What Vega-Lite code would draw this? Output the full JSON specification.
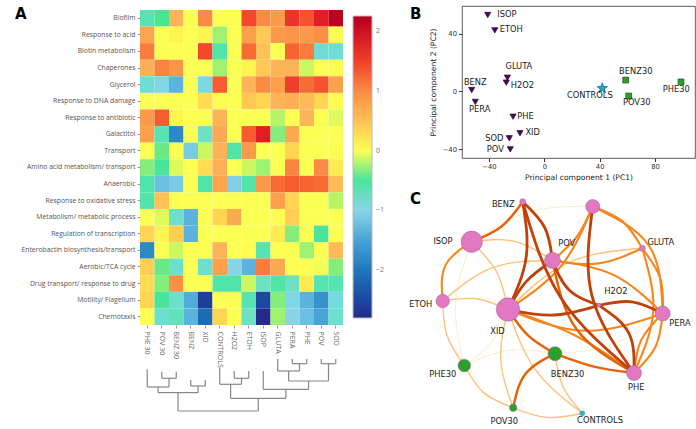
{
"$schema": "https://vega.github.io/schema/vega-lite/v6.json",
"padding": {"left": 15, "top": 5, "right": 0, "bottom": 0},
"background": "white",
"spacing": 24,
"config": {"view": {"stroke": null}, "font": "DejaVu Sans"},
"datasets": {
"heat": [
{"g":"Biofilm","s":"PHE 30","v":-0.6},{"g":"Biofilm","s":"POV 30","v":-0.45},{"g":"Biofilm","s":"BENZ 30","v":0.6},{"g":"Biofilm","s":"BENZ","v":0},{"g":"Biofilm","s":"XID","v":1.0},{"g":"Biofilm","s":"CONTROLS","v":0},{"g":"Biofilm","s":"H2O2","v":0},{"g":"Biofilm","s":"ETOH","v":1.4},{"g":"Biofilm","s":"ISOP","v":1.0},{"g":"Biofilm","s":"GLUTA","v":0.85},{"g":"Biofilm","s":"PERA","v":1.6},{"g":"Biofilm","s":"PHE","v":1.35},{"g":"Biofilm","s":"POV","v":1.8},{"g":"Biofilm","s":"SOD","v":2.2},
{"g":"Response to acid","s":"PHE 30","v":0.75},{"g":"Response to acid","s":"POV 30","v":0.05},{"g":"Response to acid","s":"BENZ 30","v":0.15},{"g":"Response to acid","s":"BENZ","v":0},{"g":"Response to acid","s":"XID","v":0.15},{"g":"Response to acid","s":"CONTROLS","v":-0.3},{"g":"Response to acid","s":"H2O2","v":0},{"g":"Response to acid","s":"ETOH","v":0.8},{"g":"Response to acid","s":"ISOP","v":0.45},{"g":"Response to acid","s":"GLUTA","v":0.85},{"g":"Response to acid","s":"PERA","v":0.9},{"g":"Response to acid","s":"PHE","v":0.85},{"g":"Response to acid","s":"POV","v":0.95},{"g":"Response to acid","s":"SOD","v":0.1},
{"g":"Biotin metabolism","s":"PHE 30","v":1.1},{"g":"Biotin metabolism","s":"POV 30","v":0},{"g":"Biotin metabolism","s":"BENZ 30","v":0},{"g":"Biotin metabolism","s":"BENZ","v":0},{"g":"Biotin metabolism","s":"XID","v":1.4},{"g":"Biotin metabolism","s":"CONTROLS","v":-0.55},{"g":"Biotin metabolism","s":"H2O2","v":0},{"g":"Biotin metabolism","s":"ETOH","v":1.2},{"g":"Biotin metabolism","s":"ISOP","v":0.5},{"g":"Biotin metabolism","s":"GLUTA","v":0},{"g":"Biotin metabolism","s":"PERA","v":1.25},{"g":"Biotin metabolism","s":"PHE","v":1.1},{"g":"Biotin metabolism","s":"POV","v":-0.8},{"g":"Biotin metabolism","s":"SOD","v":-0.8},
{"g":"Chaperones","s":"PHE 30","v":0.65},{"g":"Chaperones","s":"POV 30","v":1.05},{"g":"Chaperones","s":"BENZ 30","v":0.9},{"g":"Chaperones","s":"BENZ","v":0},{"g":"Chaperones","s":"XID","v":0},{"g":"Chaperones","s":"CONTROLS","v":-0.3},{"g":"Chaperones","s":"H2O2","v":0},{"g":"Chaperones","s":"ETOH","v":0.15},{"g":"Chaperones","s":"ISOP","v":0.45},{"g":"Chaperones","s":"GLUTA","v":0.6},{"g":"Chaperones","s":"PERA","v":0.6},{"g":"Chaperones","s":"PHE","v":-0.2},{"g":"Chaperones","s":"POV","v":0},{"g":"Chaperones","s":"SOD","v":0.1},
{"g":"Glycerol","s":"PHE 30","v":-0.8},{"g":"Glycerol","s":"POV 30","v":-0.95},{"g":"Glycerol","s":"BENZ 30","v":-1.3},{"g":"Glycerol","s":"BENZ","v":0},{"g":"Glycerol","s":"XID","v":-0.9},{"g":"Glycerol","s":"CONTROLS","v":1.3},{"g":"Glycerol","s":"H2O2","v":0},{"g":"Glycerol","s":"ETOH","v":0.6},{"g":"Glycerol","s":"ISOP","v":1.0},{"g":"Glycerol","s":"GLUTA","v":0.8},{"g":"Glycerol","s":"PERA","v":1.5},{"g":"Glycerol","s":"PHE","v":1.2},{"g":"Glycerol","s":"POV","v":1.35},{"g":"Glycerol","s":"SOD","v":0.8},
{"g":"Response to DNA damage","s":"PHE 30","v":0},{"g":"Response to DNA damage","s":"POV 30","v":0},{"g":"Response to DNA damage","s":"BENZ 30","v":0},{"g":"Response to DNA damage","s":"BENZ","v":0},{"g":"Response to DNA damage","s":"XID","v":0.3},{"g":"Response to DNA damage","s":"CONTROLS","v":0.1},{"g":"Response to DNA damage","s":"H2O2","v":0},{"g":"Response to DNA damage","s":"ETOH","v":0.45},{"g":"Response to DNA damage","s":"ISOP","v":0.35},{"g":"Response to DNA damage","s":"GLUTA","v":0.6},{"g":"Response to DNA damage","s":"PERA","v":0.65},{"g":"Response to DNA damage","s":"PHE","v":0.55},{"g":"Response to DNA damage","s":"POV","v":0.35},{"g":"Response to DNA damage","s":"SOD","v":0.1},
{"g":"Response to antibiotic","s":"PHE 30","v":0.85},{"g":"Response to antibiotic","s":"POV 30","v":1.3},{"g":"Response to antibiotic","s":"BENZ 30","v":0.15},{"g":"Response to antibiotic","s":"BENZ","v":0},{"g":"Response to antibiotic","s":"XID","v":0},{"g":"Response to antibiotic","s":"CONTROLS","v":0.6},{"g":"Response to antibiotic","s":"H2O2","v":0},{"g":"Response to antibiotic","s":"ETOH","v":0},{"g":"Response to antibiotic","s":"ISOP","v":0},{"g":"Response to antibiotic","s":"GLUTA","v":-0.25},{"g":"Response to antibiotic","s":"PERA","v":0},{"g":"Response to antibiotic","s":"PHE","v":0.6},{"g":"Response to antibiotic","s":"POV","v":0},{"g":"Response to antibiotic","s":"SOD","v":-0.15},
{"g":"Galactitol","s":"PHE 30","v":0.8},{"g":"Galactitol","s":"POV 30","v":-0.6},{"g":"Galactitol","s":"BENZ 30","v":-1.8},{"g":"Galactitol","s":"BENZ","v":0},{"g":"Galactitol","s":"XID","v":-0.7},{"g":"Galactitol","s":"CONTROLS","v":0.7},{"g":"Galactitol","s":"H2O2","v":0},{"g":"Galactitol","s":"ETOH","v":1.3},{"g":"Galactitol","s":"ISOP","v":1.8},{"g":"Galactitol","s":"GLUTA","v":-0.35},{"g":"Galactitol","s":"PERA","v":0.7},{"g":"Galactitol","s":"PHE","v":0},{"g":"Galactitol","s":"POV","v":0},{"g":"Galactitol","s":"SOD","v":0},
{"g":"Transport","s":"PHE 30","v":0},{"g":"Transport","s":"POV 30","v":-0.4},{"g":"Transport","s":"BENZ 30","v":0},{"g":"Transport","s":"BENZ","v":-1.1},{"g":"Transport","s":"XID","v":-0.2},{"g":"Transport","s":"CONTROLS","v":0.6},{"g":"Transport","s":"H2O2","v":-0.55},{"g":"Transport","s":"ETOH","v":0.85},{"g":"Transport","s":"ISOP","v":0},{"g":"Transport","s":"GLUTA","v":0},{"g":"Transport","s":"PERA","v":0.35},{"g":"Transport","s":"PHE","v":0},{"g":"Transport","s":"POV","v":0},{"g":"Transport","s":"SOD","v":0.1},
{"g":"Amino acid metabolism/ transport","s":"PHE 30","v":-0.35},{"g":"Amino acid metabolism/ transport","s":"POV 30","v":-0.5},{"g":"Amino acid metabolism/ transport","s":"BENZ 30","v":-0.15},{"g":"Amino acid metabolism/ transport","s":"BENZ","v":0},{"g":"Amino acid metabolism/ transport","s":"XID","v":0.3},{"g":"Amino acid metabolism/ transport","s":"CONTROLS","v":0.65},{"g":"Amino acid metabolism/ transport","s":"H2O2","v":0},{"g":"Amino acid metabolism/ transport","s":"ETOH","v":-0.2},{"g":"Amino acid metabolism/ transport","s":"ISOP","v":-0.3},{"g":"Amino acid metabolism/ transport","s":"GLUTA","v":0},{"g":"Amino acid metabolism/ transport","s":"PERA","v":1.05},{"g":"Amino acid metabolism/ transport","s":"PHE","v":0},{"g":"Amino acid metabolism/ transport","s":"POV","v":1.0},{"g":"Amino acid metabolism/ transport","s":"SOD","v":0.2},
{"g":"Anaerobic","s":"PHE 30","v":-0.55},{"g":"Anaerobic","s":"POV 30","v":-1.2},{"g":"Anaerobic","s":"BENZ 30","v":-1.1},{"g":"Anaerobic","s":"BENZ","v":0},{"g":"Anaerobic","s":"XID","v":-0.55},{"g":"Anaerobic","s":"CONTROLS","v":0.75},{"g":"Anaerobic","s":"H2O2","v":-1.05},{"g":"Anaerobic","s":"ETOH","v":-0.55},{"g":"Anaerobic","s":"ISOP","v":0.85},{"g":"Anaerobic","s":"GLUTA","v":1.2},{"g":"Anaerobic","s":"PERA","v":1.3},{"g":"Anaerobic","s":"PHE","v":1.25},{"g":"Anaerobic","s":"POV","v":1.2},{"g":"Anaerobic","s":"SOD","v":0.55},
{"g":"Response to oxidative stress","s":"PHE 30","v":-0.55},{"g":"Response to oxidative stress","s":"POV 30","v":0.5},{"g":"Response to oxidative stress","s":"BENZ 30","v":0},{"g":"Response to oxidative stress","s":"BENZ","v":0},{"g":"Response to oxidative stress","s":"XID","v":0.05},{"g":"Response to oxidative stress","s":"CONTROLS","v":0},{"g":"Response to oxidative stress","s":"H2O2","v":0},{"g":"Response to oxidative stress","s":"ETOH","v":0},{"g":"Response to oxidative stress","s":"ISOP","v":0},{"g":"Response to oxidative stress","s":"GLUTA","v":0.8},{"g":"Response to oxidative stress","s":"PERA","v":0.35},{"g":"Response to oxidative stress","s":"PHE","v":0},{"g":"Response to oxidative stress","s":"POV","v":0},{"g":"Response to oxidative stress","s":"SOD","v":-0.25},
{"g":"Metabolism/ metabolic process","s":"PHE 30","v":0},{"g":"Metabolism/ metabolic process","s":"POV 30","v":-0.15},{"g":"Metabolism/ metabolic process","s":"BENZ 30","v":-0.75},{"g":"Metabolism/ metabolic process","s":"BENZ","v":-1.3},{"g":"Metabolism/ metabolic process","s":"XID","v":0},{"g":"Metabolism/ metabolic process","s":"CONTROLS","v":0.35},{"g":"Metabolism/ metabolic process","s":"H2O2","v":0.7},{"g":"Metabolism/ metabolic process","s":"ETOH","v":0},{"g":"Metabolism/ metabolic process","s":"ISOP","v":0.05},{"g":"Metabolism/ metabolic process","s":"GLUTA","v":0},{"g":"Metabolism/ metabolic process","s":"PERA","v":0.4},{"g":"Metabolism/ metabolic process","s":"PHE","v":0},{"g":"Metabolism/ metabolic process","s":"POV","v":0},{"g":"Metabolism/ metabolic process","s":"SOD","v":0},
{"g":"Regulation of transcription","s":"PHE 30","v":0.35},{"g":"Regulation of transcription","s":"POV 30","v":0.15},{"g":"Regulation of transcription","s":"BENZ 30","v":0.4},{"g":"Regulation of transcription","s":"BENZ","v":-1.3},{"g":"Regulation of transcription","s":"XID","v":0},{"g":"Regulation of transcription","s":"CONTROLS","v":0.05},{"g":"Regulation of transcription","s":"H2O2","v":0.05},{"g":"Regulation of transcription","s":"ETOH","v":0.05},{"g":"Regulation of transcription","s":"ISOP","v":0},{"g":"Regulation of transcription","s":"GLUTA","v":0.2},{"g":"Regulation of transcription","s":"PERA","v":-0.35},{"g":"Regulation of transcription","s":"PHE","v":0},{"g":"Regulation of transcription","s":"POV","v":-0.5},{"g":"Regulation of transcription","s":"SOD","v":0},
{"g":"Enterobactin biosynthesis/transport","s":"PHE 30","v":-1.8},{"g":"Enterobactin biosynthesis/transport","s":"POV 30","v":0},{"g":"Enterobactin biosynthesis/transport","s":"BENZ 30","v":-0.2},{"g":"Enterobactin biosynthesis/transport","s":"BENZ","v":0},{"g":"Enterobactin biosynthesis/transport","s":"XID","v":0},{"g":"Enterobactin biosynthesis/transport","s":"CONTROLS","v":0.6},{"g":"Enterobactin biosynthesis/transport","s":"H2O2","v":0},{"g":"Enterobactin biosynthesis/transport","s":"ETOH","v":0.1},{"g":"Enterobactin biosynthesis/transport","s":"ISOP","v":-0.6},{"g":"Enterobactin biosynthesis/transport","s":"GLUTA","v":0},{"g":"Enterobactin biosynthesis/transport","s":"PERA","v":0},{"g":"Enterobactin biosynthesis/transport","s":"PHE","v":-0.3},{"g":"Enterobactin biosynthesis/transport","s":"POV","v":0},{"g":"Enterobactin biosynthesis/transport","s":"SOD","v":0.55},
{"g":"Aerobic/TCA cycle","s":"PHE 30","v":0.4},{"g":"Aerobic/TCA cycle","s":"POV 30","v":-0.4},{"g":"Aerobic/TCA cycle","s":"BENZ 30","v":-0.75},{"g":"Aerobic/TCA cycle","s":"BENZ","v":0},{"g":"Aerobic/TCA cycle","s":"XID","v":-0.75},{"g":"Aerobic/TCA cycle","s":"CONTROLS","v":0.8},{"g":"Aerobic/TCA cycle","s":"H2O2","v":-1.0},{"g":"Aerobic/TCA cycle","s":"ETOH","v":-1.3},{"g":"Aerobic/TCA cycle","s":"ISOP","v":1.1},{"g":"Aerobic/TCA cycle","s":"GLUTA","v":0.7},{"g":"Aerobic/TCA cycle","s":"PERA","v":0},{"g":"Aerobic/TCA cycle","s":"PHE","v":0.05},{"g":"Aerobic/TCA cycle","s":"POV","v":-0.1},{"g":"Aerobic/TCA cycle","s":"SOD","v":-0.35},
{"g":"Drug transport/ response to drug","s":"PHE 30","v":0.3},{"g":"Drug transport/ response to drug","s":"POV 30","v":-0.35},{"g":"Drug transport/ response to drug","s":"BENZ 30","v":0.95},{"g":"Drug transport/ response to drug","s":"BENZ","v":0},{"g":"Drug transport/ response to drug","s":"XID","v":0},{"g":"Drug transport/ response to drug","s":"CONTROLS","v":-0.55},{"g":"Drug transport/ response to drug","s":"H2O2","v":-0.55},{"g":"Drug transport/ response to drug","s":"ETOH","v":-0.2},{"g":"Drug transport/ response to drug","s":"ISOP","v":-0.7},{"g":"Drug transport/ response to drug","s":"GLUTA","v":-0.55},{"g":"Drug transport/ response to drug","s":"PERA","v":-0.7},{"g":"Drug transport/ response to drug","s":"PHE","v":0.2},{"g":"Drug transport/ response to drug","s":"POV","v":-0.6},{"g":"Drug transport/ response to drug","s":"SOD","v":-0.6},
{"g":"Motility/ Flagellum","s":"PHE 30","v":0.35},{"g":"Motility/ Flagellum","s":"POV 30","v":-0.5},{"g":"Motility/ Flagellum","s":"BENZ 30","v":-0.75},{"g":"Motility/ Flagellum","s":"BENZ","v":-1.4},{"g":"Motility/ Flagellum","s":"XID","v":-2.6},{"g":"Motility/ Flagellum","s":"CONTROLS","v":0},{"g":"Motility/ Flagellum","s":"H2O2","v":0},{"g":"Motility/ Flagellum","s":"ETOH","v":-0.6},{"g":"Motility/ Flagellum","s":"ISOP","v":-2.5},{"g":"Motility/ Flagellum","s":"GLUTA","v":-0.35},{"g":"Motility/ Flagellum","s":"PERA","v":-0.95},{"g":"Motility/ Flagellum","s":"PHE","v":-1.3},{"g":"Motility/ Flagellum","s":"POV","v":-1.7},{"g":"Motility/ Flagellum","s":"SOD","v":-0.85},
{"g":"Chemotaxis","s":"PHE 30","v":0.05},{"g":"Chemotaxis","s":"POV 30","v":-0.75},{"g":"Chemotaxis","s":"BENZ 30","v":-0.65},{"g":"Chemotaxis","s":"BENZ","v":-1.3},{"g":"Chemotaxis","s":"XID","v":-2.1},{"g":"Chemotaxis","s":"CONTROLS","v":0.35},{"g":"Chemotaxis","s":"H2O2","v":0},{"g":"Chemotaxis","s":"ETOH","v":-0.7},{"g":"Chemotaxis","s":"ISOP","v":-2.8},{"g":"Chemotaxis","s":"GLUTA","v":-0.3},{"g":"Chemotaxis","s":"PERA","v":-1.0},{"g":"Chemotaxis","s":"PHE","v":-1.2},{"g":"Chemotaxis","s":"POV","v":-1.5},{"g":"Chemotaxis","s":"SOD","v":-0.75}
],
"dendro": [
{"x1":10,"x2":10,"h1":3,"h2":7.7},{"x1":11,"x2":11,"h1":3,"h2":7.7},{"x1":10,"x2":11,"h1":7.7,"h2":7.7},
{"x1":12,"x2":12,"h1":3,"h2":7.7},{"x1":13,"x2":13,"h1":3,"h2":7.7},{"x1":12,"x2":13,"h1":7.7,"h2":7.7},
{"x1":9,"x2":9,"h1":3,"h2":15},{"x1":10.5,"x2":10.5,"h1":7.7,"h2":15},{"x1":9,"x2":10.5,"h1":15,"h2":15},
{"x1":9.75,"x2":9.75,"h1":15,"h2":25},{"x1":12.5,"x2":12.5,"h1":7.7,"h2":25},{"x1":9.75,"x2":12.5,"h1":25,"h2":25},
{"x1":8,"x2":8,"h1":15,"h2":33.3},{"x1":11.125,"x2":11.125,"h1":25,"h2":33.3},{"x1":8,"x2":11.125,"h1":33.3,"h2":33.3},
{"x1":6,"x2":6,"h1":15,"h2":22.3},{"x1":7,"x2":7,"h1":15,"h2":22.3},{"x1":6,"x2":7,"h1":22.3,"h2":22.3},
{"x1":5,"x2":5,"h1":11.7,"h2":28.3},{"x1":6.5,"x2":6.5,"h1":22.3,"h2":28.3},{"x1":5,"x2":6.5,"h1":28.3,"h2":28.3},
{"x1":5.75,"x2":5.75,"h1":28.3,"h2":42.3},{"x1":9.5625,"x2":9.5625,"h1":33.3,"h2":42.3},{"x1":5.75,"x2":9.5625,"h1":42.3,"h2":42.3},
{"x1":1,"x2":1,"h1":15.7,"h2":22.3},{"x1":2,"x2":2,"h1":15.7,"h2":22.3},{"x1":1,"x2":2,"h1":22.3,"h2":22.3},
{"x1":0,"x2":0,"h1":13.3,"h2":31},{"x1":1.5,"x2":1.5,"h1":22.3,"h2":31},{"x1":0,"x2":1.5,"h1":31,"h2":31},
{"x1":3,"x2":3,"h1":24,"h2":30},{"x1":4,"x2":4,"h1":24,"h2":30},{"x1":3,"x2":4,"h1":30,"h2":30},
{"x1":0.75,"x2":0.75,"h1":31,"h2":36.7},{"x1":3.5,"x2":3.5,"h1":30,"h2":36.7},{"x1":0.75,"x2":3.5,"h1":36.7,"h2":36.7},
{"x1":2.125,"x2":2.125,"h1":36.7,"h2":55},{"x1":7.656,"x2":7.656,"h1":42.3,"h2":55},{"x1":2.125,"x2":7.656,"h1":55,"h2":55}
],
"pca": [
{"name":"ISOP","grp":"treated","pc1":-40.9,"pc2":52.8,"lx":-27,"ly":52.8},
{"name":"ETOH","grp":"treated","pc1":-35.8,"pc2":42.2,"lx":-23.9,"ly":42.2},
{"name":"GLUTA","grp":"treated","pc1":-26.7,"pc2":9.5,"lx":-18.4,"ly":16.9},
{"name":"H2O2","grp":"treated","pc1":-27.5,"pc2":6.1,"lx":-15.8,"ly":3.6},
{"name":"BENZ","grp":"treated","pc1":-52.5,"pc2":1.0,"lx":-49.9,"ly":6.1},
{"name":"PERA","grp":"treated","pc1":-49.9,"pc2":-7.2,"lx":-46.7,"ly":-12.8},
{"name":"PHE","grp":"treated","pc1":-22.6,"pc2":-17.4,"lx":-13.6,"ly":-17.4},
{"name":"XID","grp":"treated","pc1":-17.6,"pc2":-28.8,"lx":-8.4,"ly":-28.4},
{"name":"SOD","grp":"treated","pc1":-25.3,"pc2":-32.3,"lx":-36.2,"ly":-32.6},
{"name":"POV","grp":"treated","pc1":-24.6,"pc2":-39.9,"lx":-35.4,"ly":-40.6},
{"name":"CONTROLS","grp":"control","pc1":41.9,"pc2":2.2,"lx":32.9,"ly":-3.1},
{"name":"BENZ30","grp":"recovered","pc1":58.8,"pc2":7.9,"lx":66.1,"ly":13.4},
{"name":"POV30","grp":"recovered","pc1":61.0,"pc2":-3.1,"lx":66.8,"ly":-7.7},
{"name":"PHE30","grp":"recovered","pc1":98.8,"pc2":6.6,"lx":95.4,"ly":0.8}
],
"nodes": [
{"lab":"BENZ","grp":"treated","v":3.6,"x":522.7,"y":200.7,"lx":503.3,"ly":204},
{"lab":"","grp":"treated","v":19.6,"x":592.7,"y":205.5,"lx":592.7,"ly":205.5},
{"lab":"ISOP","grp":"treated","v":45.8,"x":471.7,"y":240.7,"lx":443,"ly":240.7},
{"lab":"GLUTA","grp":"treated","v":3.6,"x":642.3,"y":247.3,"lx":660.8,"ly":242.3},
{"lab":"POV","grp":"treated","v":25.6,"x":552.5,"y":259.5,"lx":566.7,"ly":242.7},
{"lab":"ETOH","grp":"treated","v":18,"x":442.7,"y":300,"lx":420.8,"ly":304.3},
{"lab":"H2O2","grp":"treated","v":1.6,"x":599,"y":304.3,"lx":615.8,"ly":291},
{"lab":"XID","grp":"treated","v":54.8,"x":508,"y":308.5,"lx":497.5,"ly":330.7},
{"lab":"PERA","grp":"treated","v":22.5,"x":662.7,"y":312.5,"lx":680,"ly":323.3},
{"lab":"BENZ30","grp":"recovered","v":19.6,"x":555,"y":352.7,"lx":567.5,"ly":373.7},
{"lab":"PHE30","grp":"recovered","v":15.9,"x":464.3,"y":364.5,"lx":442.7,"ly":373.7},
{"lab":"PHE","grp":"treated","v":22.5,"x":634,"y":372,"lx":636.2,"ly":387.3},
{"lab":"POV30","grp":"recovered","v":5.5,"x":513.2,"y":406.8,"lx":504.2,"ly":421},
{"lab":"CONTROLS","grp":"control","v":2.5,"x":582.3,"y":412.3,"lx":600,"ly":420.3}
],
"edges": [
{"e":"E01","w":1,"o":0,"x":471.7,"y":240.7},{"e":"E01","w":1,"o":1,"x":455.6,"y":301.9},{"e":"E01","w":1,"o":2,"x":464.3,"y":364.5},
{"e":"E02","w":1,"o":0,"x":464.3,"y":364.5},{"e":"E02","w":1,"o":1,"x":508.5,"y":349.5},{"e":"E02","w":1,"o":2,"x":555,"y":352.7},
{"e":"E03","w":1,"o":0,"x":508,"y":308.5},{"e":"E03","w":1,"o":1,"x":491.8,"y":340.9},{"e":"E03","w":1,"o":2,"x":464.3,"y":364.5},
{"e":"E04","w":1,"o":0,"x":471.7,"y":240.7},{"e":"E04","w":1,"o":1,"x":528.7,"y":211},{"e":"E04","w":1,"o":2,"x":592.7,"y":205.5},
{"e":"E05","w":1,"o":0,"x":662.7,"y":312.5},{"e":"E05","w":1,"o":1,"x":612.9,"y":343.4},{"e":"E05","w":1,"o":2,"x":555,"y":352.7},
{"e":"E06","w":2,"o":0,"x":471.7,"y":240.7},{"e":"E06","w":2,"o":1,"x":496.7,"y":271},{"e":"E06","w":2,"o":2,"x":508,"y":308.5},
{"e":"E07","w":2,"o":0,"x":552.5,"y":259.5},{"e":"E07","w":2,"o":1,"x":514.4,"y":240.4},{"e":"E07","w":2,"o":2,"x":471.7,"y":240.7},
{"e":"E08","w":2,"o":0,"x":442.7,"y":300},{"e":"E08","w":2,"o":1,"x":492.7,"y":266.6},{"e":"E08","w":2,"o":2,"x":552.5,"y":259.5},
{"e":"E09","w":2,"o":0,"x":442.7,"y":300},{"e":"E09","w":2,"o":1,"x":476.3,"y":297.8},{"e":"E09","w":2,"o":2,"x":508,"y":308.5},
{"e":"E10","w":2,"o":0,"x":442.7,"y":300},{"e":"E10","w":2,"o":1,"x":447,"y":334.5},{"e":"E10","w":2,"o":2,"x":464.3,"y":364.5},
{"e":"E11","w":2,"o":0,"x":464.3,"y":364.5},{"e":"E11","w":2,"o":1,"x":483.7,"y":391.6},{"e":"E11","w":2,"o":2,"x":513.2,"y":406.8},
{"e":"E12","w":2,"o":0,"x":508,"y":308.5},{"e":"E12","w":2,"o":1,"x":500.8,"y":358.2},{"e":"E12","w":2,"o":2,"x":513.2,"y":406.8},
{"e":"E13","w":2,"o":0,"x":508,"y":308.5},{"e":"E13","w":2,"o":1,"x":534.8,"y":367.8},{"e":"E13","w":2,"o":2,"x":582.3,"y":412.3},
{"e":"E14","w":2,"o":0,"x":513.2,"y":406.8},{"e":"E14","w":2,"o":1,"x":547.2,"y":416.5},{"e":"E14","w":2,"o":2,"x":582.3,"y":412.3},
{"e":"E15","w":2,"o":0,"x":555,"y":352.7},{"e":"E15","w":2,"o":1,"x":562.7,"y":385.2},{"e":"E15","w":2,"o":2,"x":582.3,"y":412.3},
{"e":"E16","w":2,"o":0,"x":642.3,"y":247.3},{"e":"E16","w":2,"o":1,"x":567.9,"y":261.8},{"e":"E16","w":2,"o":2,"x":508,"y":308.5},
{"e":"E17","w":3,"o":0,"x":471.7,"y":240.7},{"e":"E17","w":3,"o":1,"x":445.3,"y":264.6},{"e":"E17","w":3,"o":2,"x":442.7,"y":300},
{"e":"E18","w":3,"o":0,"x":592.7,"y":205.5},{"e":"E18","w":3,"o":1,"x":576.9,"y":235.7},{"e":"E18","w":3,"o":2,"x":552.5,"y":259.5},
{"e":"E19","w":3,"o":0,"x":592.7,"y":205.5},{"e":"E19","w":3,"o":1,"x":560.7,"y":265.5},{"e":"E19","w":3,"o":2,"x":508,"y":308.5},
{"e":"E20","w":3,"o":0,"x":592.7,"y":205.5},{"e":"E20","w":3,"o":1,"x":622.5,"y":220.4},{"e":"E20","w":3,"o":2,"x":642.3,"y":247.3},
{"e":"E21","w":3,"o":0,"x":592.7,"y":205.5},{"e":"E21","w":3,"o":1,"x":649.1,"y":245},{"e":"E21","w":3,"o":2,"x":662.7,"y":312.5},
{"e":"E22","w":3,"o":0,"x":642.3,"y":247.3},{"e":"E22","w":3,"o":1,"x":660.3,"y":277.5},{"e":"E22","w":3,"o":2,"x":662.7,"y":312.5},
{"e":"E23","w":3,"o":0,"x":642.3,"y":247.3},{"e":"E23","w":3,"o":1,"x":653.2,"y":310.7},{"e":"E23","w":3,"o":2,"x":634,"y":372},
{"e":"E24","w":3,"o":0,"x":642.3,"y":247.3},{"e":"E24","w":3,"o":1,"x":598.6,"y":262.4},{"e":"E24","w":3,"o":2,"x":552.5,"y":259.5},
{"e":"E25","w":3,"o":0,"x":552.5,"y":259.5},{"e":"E25","w":3,"o":1,"x":613.4,"y":273.9},{"e":"E25","w":3,"o":2,"x":662.7,"y":312.5},
{"e":"E26","w":3,"o":0,"x":508,"y":308.5},{"e":"E26","w":3,"o":1,"x":584.8,"y":329.8},{"e":"E26","w":3,"o":2,"x":662.7,"y":312.5},
{"e":"E27","w":3,"o":0,"x":508,"y":308.5},{"e":"E27","w":3,"o":1,"x":574.2,"y":334},{"e":"E27","w":3,"o":2,"x":634,"y":372},
{"e":"E28","w":3,"o":0,"x":662.7,"y":312.5},{"e":"E28","w":3,"o":1,"x":641.3,"y":338.9},{"e":"E28","w":3,"o":2,"x":634,"y":372},
{"e":"E29","w":3,"o":0,"x":662.7,"y":312.5},{"e":"E29","w":3,"o":1,"x":655.5,"y":345.7},{"e":"E29","w":3,"o":2,"x":634,"y":372},
{"e":"E30","w":3.5,"o":0,"x":522.7,"y":200.7},{"e":"E30","w":3.5,"o":1,"x":501.2,"y":225.8},{"e":"E30","w":3.5,"o":2,"x":471.7,"y":240.7},
{"e":"E31","w":3.5,"o":0,"x":508,"y":308.5},{"e":"E31","w":3.5,"o":1,"x":528,"y":334.4},{"e":"E31","w":3.5,"o":2,"x":555,"y":352.7},
{"e":"E32","w":3.5,"o":0,"x":555,"y":352.7},{"e":"E32","w":3.5,"o":1,"x":525.4,"y":373.1},{"e":"E32","w":3.5,"o":2,"x":513.2,"y":406.8},
{"e":"E33","w":3.5,"o":0,"x":555,"y":352.7},{"e":"E33","w":3.5,"o":1,"x":593.7,"y":365.6},{"e":"E33","w":3.5,"o":2,"x":634,"y":372},
{"e":"E34","w":3.5,"o":0,"x":552.5,"y":259.5},{"e":"E34","w":3.5,"o":1,"x":576.4,"y":328},{"e":"E34","w":3.5,"o":2,"x":634,"y":372},
{"e":"E35","w":4,"o":0,"x":522.7,"y":200.7},{"e":"E35","w":4,"o":1,"x":544.7,"y":226.5},{"e":"E35","w":4,"o":2,"x":552.5,"y":259.5},
{"e":"E36","w":4,"o":0,"x":522.7,"y":200.7},{"e":"E36","w":4,"o":1,"x":526.2,"y":256.1},{"e":"E36","w":4,"o":2,"x":508,"y":308.5},
{"e":"E37","w":4,"o":0,"x":522.7,"y":200.7},{"e":"E37","w":4,"o":1,"x":561.3,"y":297.5},{"e":"E37","w":4,"o":2,"x":634,"y":372},
{"e":"E38","w":4,"o":0,"x":592.7,"y":205.5},{"e":"E38","w":4,"o":1,"x":591.8,"y":294.2},{"e":"E38","w":4,"o":2,"x":634,"y":372},
{"e":"E39","w":4,"o":0,"x":508,"y":308.5},{"e":"E39","w":4,"o":1,"x":553.9,"y":314},{"e":"E39","w":4,"o":2,"x":599,"y":304.3},
{"e":"E40","w":4,"o":0,"x":599,"y":304.3},{"e":"E40","w":4,"o":1,"x":631.9,"y":300.8},{"e":"E40","w":4,"o":2,"x":662.7,"y":312.5},
{"e":"E41","w":4,"o":0,"x":552.5,"y":259.5},{"e":"E41","w":4,"o":1,"x":569.1,"y":288.9},{"e":"E41","w":4,"o":2,"x":599,"y":304.3},
{"e":"E42","w":4,"o":0,"x":508,"y":308.5},{"e":"E42","w":4,"o":1,"x":526.4,"y":280.4},{"e":"E42","w":4,"o":2,"x":552.5,"y":259.5},
{"e":"E43","w":4,"o":0,"x":599,"y":304.3},{"e":"E43","w":4,"o":1,"x":628.7,"y":331.9},{"e":"E43","w":4,"o":2,"x":634,"y":372}
]
},
"hconcat": [
{
"bounds": "flush",
"spacing": 31,
"vconcat": [
{
"width": 203, "height": 319,
"title": {"text": "A", "anchor": "start", "frame": "group", "offset": -16, "baseline": "top", "dx": -125, "dy": 0, "fontSize": 15, "fontWeight": "bold", "font": "DejaVu Sans", "color": "#000"},
"data": {"name": "heat"},
"mark": {"type": "rect"},
"encoding": {
"x": {"field": "s", "type": "nominal", "sort": ["PHE 30","POV 30","BENZ 30","BENZ","XID","CONTROLS","H2O2","ETOH","ISOP","GLUTA","PERA","PHE","POV","SOD"], "scale": {"paddingInner": 0, "paddingOuter": 0},
"axis": {"title": null, "labelAngle": 90, "labelFont": "Open Sans", "labelFontSize": 7, "labelColor": "#666", "domain": false, "tickSize": 3, "tickColor": "#999", "labelPadding": 3}},
"y": {"field": "g", "type": "nominal", "sort": ["Biofilm","Response to acid","Biotin metabolism","Chaperones","Glycerol","Response to DNA damage","Response to antibiotic","Galactitol","Transport","Amino acid metabolism/ transport","Anaerobic","Response to oxidative stress","Metabolism/ metabolic process","Regulation of transcription","Enterobactin biosynthesis/transport","Aerobic/TCA cycle","Drug transport/ response to drug","Motility/ Flagellum","Chemotaxis"], "scale": {"paddingInner": 0, "paddingOuter": 0.1206, "align": 1},
"axis": {"title": null, "labelFont": "Open Sans", "labelFontSize": 6.8, "labelColor": "#555", "domain": false, "tickSize": 3, "tickColor": "#999", "labelPadding": 2}},
"color": {"field": "v", "type": "quantitative",
"scale": {"domain": [-2.8, -2.3, -1.8, -1.3, -1.0, -0.7, -0.45, -0.25, -0.08, 0.08, 0.3, 0.6, 1.0, 1.4, 1.8, 2.25],
"range": ["#262a8c", "#1c5aa8", "#2c8ac6", "#5cb4de", "#8ad4e8", "#6ee0c4", "#48e690", "#b8f468", "#fcff54", "#fcff54", "#ffdc52", "#fdb458", "#fa8a44", "#f4482c", "#e01e24", "#b4001e"]},
"legend": {"orient": "none", "legendX": 213, "legendY": 10, "direction": "vertical", "gradientLength": 302, "gradientThickness": 19, "title": null, "values": [-2, -1, 0, 1, 2], "labelFont": "Open Sans", "labelFontSize": 7, "labelColor": "#777", "gradientStrokeColor": "#bbb", "gradientStrokeWidth": 1, "padding": 0, "labelOffset": 4, "labelOverlap": false}}
}
},
{
"width": 203, "height": 57,
"data": {"name": "dendro"},
"mark": {"type": "rule", "color": "#888", "strokeWidth": 1.2},
"encoding": {
"x": {"field": "x1", "type": "quantitative", "scale": {"domain": [-0.5, 13.5], "nice": false, "zero": false}, "axis": null},
"x2": {"field": "x2"},
"y": {"field": "h1", "type": "quantitative", "scale": {"domain": [0, 57], "reverse": true, "nice": false, "zero": false}, "axis": null},
"y2": {"field": "h2"}
}
}
]
},
{
"bounds": "flush",
"spacing": 33,
"vconcat": [
{
"width": 233, "height": 152,
"view": {"stroke": "#333", "strokeWidth": 0.8},
"title": {"text": "B", "anchor": "start", "frame": "group", "offset": -16, "baseline": "top", "dx": -52, "dy": 0, "fontSize": 15, "fontWeight": "bold", "font": "DejaVu Sans", "color": "#000"},
"data": {"name": "pca"},
"layer": [
{
"mark": {"type": "point", "filled": true, "opacity": 1, "strokeWidth": 0.7},
"encoding": {
"x": {"field": "pc1", "type": "quantitative", "scale": {"domain": [-59.5, 108.9], "nice": false, "zero": false},
"axis": {"title": "Principal component 1 (PC1)", "values": [-40, -20, 0, 20, 40, 60, 80, 100], "grid": false, "domain": false, "tickSize": 3.5, "tickColor": "#333", "labelFont": "DejaVu Sans", "labelFontSize": 6.8, "labelColor": "#333", "labelPadding": 2, "titleFont": "DejaVu Sans", "titleFontSize": 7.6, "titleFontWeight": "normal", "titleColor": "#222", "titlePadding": 3}},
"y": {"field": "pc2", "type": "quantitative", "scale": {"domain": [-45.9, 59], "nice": false, "zero": false},
"axis": {"title": "Principal component 2 (PC2)", "values": [-40, -20, 0, 20, 40], "grid": false, "domain": false, "tickSize": 3.5, "tickColor": "#333", "labelFont": "DejaVu Sans", "labelFontSize": 6.8, "labelColor": "#333", "labelPadding": 2, "titleFont": "DejaVu Sans", "titleFontSize": 7.6, "titleFontWeight": "normal", "titleColor": "#222", "titlePadding": 5}},
"shape": {"field": "grp", "type": "nominal", "scale": {"domain": ["treated", "recovered", "control"], "range": ["triangle-down", "square", "M0,-1L0.235,-0.324L0.951,-0.309L0.38,0.124L0.588,0.809L0,0.4L-0.588,0.809L-0.38,0.124L-0.951,-0.309L-0.235,-0.324Z"]}, "legend": null},
"color": {"field": "grp", "type": "nominal", "scale": {"domain": ["treated", "recovered", "control"], "range": ["#46095a", "#2ca02c", "#1aa8d4"]}, "legend": null},
"stroke": {"field": "grp", "type": "nominal", "scale": {"domain": ["treated", "recovered", "control"], "range": ["#2a0535", "#154d15", "#0e6080"]}, "legend": null},
"size": {"field": "grp", "type": "nominal", "scale": {"type": "ordinal", "domain": ["treated", "recovered", "control"], "range": [38, 34, 120]}, "legend": null}
}
},
{
"mark": {"type": "text", "font": "DejaVu Sans", "fontSize": 8.3, "color": "#222"},
"encoding": {
"x": {"field": "lx", "type": "quantitative"},
"y": {"field": "ly", "type": "quantitative"},
"text": {"field": "name"}
}
}
]
},
{
"width": 233, "height": 239,
"title": {"text": "C", "anchor": "start", "frame": "group", "offset": -16, "baseline": "top", "dx": -52, "dy": 0, "fontSize": 15, "fontWeight": "bold", "font": "DejaVu Sans", "color": "#000"},
"resolve": {"scale": {"color": "independent"}},
"layer": [
{
"data": {"name": "edges"},
"mark": {"type": "line", "interpolate": "natural", "strokeCap": "round"},
"encoding": {
"x": {"field": "x", "type": "quantitative", "scale": {"domain": [462, 695], "nice": false, "zero": false}, "axis": null},
"y": {"field": "y", "type": "quantitative", "scale": {"domain": [190, 429], "reverse": true, "nice": false, "zero": false}, "axis": null},
"detail": {"field": "e"},
"order": {"field": "o"},
"color": {"field": "w", "type": "quantitative", "scale": {"domain": [1, 2, 3, 3.5, 4], "range": ["#fde3b5", "#fcc27a", "#f7861c", "#e8620a", "#c2410a"]}, "legend": null},
"strokeWidth": {"field": "w", "type": "quantitative", "scale": {"domain": [1, 4], "range": [0.7, 2.8]}, "legend": null}
}
},
{
"data": {"name": "nodes"},
"mark": {"type": "point", "filled": true, "opacity": 1, "stroke": "#8a6a8a", "strokeWidth": 0.5},
"encoding": {
"x": {"field": "x", "type": "quantitative"},
"y": {"field": "y", "type": "quantitative"},
"color": {"field": "grp", "type": "nominal", "scale": {"domain": ["treated", "recovered", "control"], "range": ["#e377c2", "#2ca02c", "#17becf"]}, "legend": null},
"size": {"field": "v", "type": "quantitative", "scale": {"domain": [0, 55], "range": [0, 550]}, "legend": null}
}
},
{
"data": {"name": "nodes"},
"mark": {"type": "text", "font": "DejaVu Sans", "fontSize": 8.3, "color": "#222"},
"encoding": {
"x": {"field": "lx", "type": "quantitative"},
"y": {"field": "ly", "type": "quantitative"},
"text": {"field": "lab"}
}
}
]
}
]
}
]
}
